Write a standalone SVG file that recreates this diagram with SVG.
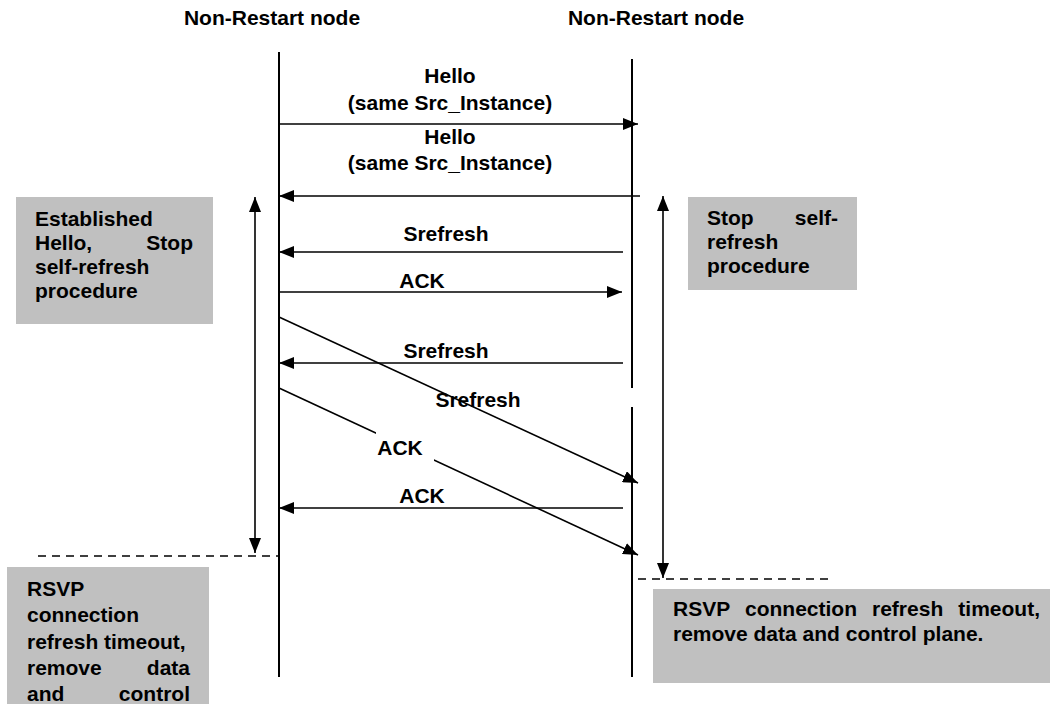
<svg xmlns="http://www.w3.org/2000/svg" width="1050" height="704" viewBox="0 0 1050 704">
  <style>
    text { font-family: "Liberation Sans", Arial, sans-serif; font-weight: bold; font-size: 21px; fill: #000; }
    .mid { text-anchor: middle; }
    .end { text-anchor: end; }
    .life { stroke: #000; stroke-width: 2; fill: none; }
    .msg { stroke: #000; stroke-width: 1.6; fill: none; }
    .dash { stroke: #000; stroke-width: 1.5; stroke-dasharray: 8 6; fill: none; }
    .note { fill: #c0c0c0; stroke: none; }
  </style>
  <defs>
    <marker id="ah" viewBox="0 0 15 12" refX="15" refY="6" markerWidth="15" markerHeight="12" markerUnits="userSpaceOnUse" orient="auto-start-reverse">
      <path d="M0,0 L15,6 L0,12 z" fill="#000"/>
    </marker>
  </defs>
  <rect width="1050" height="704" fill="#fff"/>

  <!-- lifeline headers -->
  <g id="node-left">
    <text x="272" y="25" class="mid">Non-Restart node</text>
    <line class="life" x1="279" y1="52" x2="279" y2="677"/>
  </g>
  <g id="node-right">
    <text x="656" y="25" class="mid">Non-Restart node</text>
    <line class="life" x1="632" y1="59" x2="632" y2="388"/>
    <line class="life" x1="632" y1="407" x2="632" y2="677"/>
  </g>

  <!-- side notes -->
  <g id="note-left-top">
    <rect class="note" x="16" y="197" width="197" height="127"/>
    <text x="35" y="226">Established</text>
    <text x="35" y="250">Hello,</text>
    <text x="193" y="250" class="end">Stop</text>
    <text x="35" y="274">self-refresh</text>
    <text x="35" y="298">procedure</text>
  </g>
  <g id="note-right-top">
    <rect class="note" x="688" y="197" width="169" height="93"/>
    <text x="707" y="225">Stop</text>
    <text x="838" y="225" class="end">self-</text>
    <text x="707" y="249">refresh</text>
    <text x="707" y="273">procedure</text>
  </g>
  <g id="note-left-bottom">
    <rect class="note" x="7" y="567" width="202" height="137"/>
    <text x="27" y="596">RSVP</text>
    <text x="27" y="622">connection</text>
    <text x="27" y="649">refresh timeout,</text>
    <text x="27" y="675">remove</text>
    <text x="190" y="675" class="end">data</text>
    <text x="27" y="701">and</text>
    <text x="190" y="701" class="end">control</text>
  </g>
  <g id="note-right-bottom">
    <rect class="note" x="653" y="589" width="397" height="94"/>
    <text x="673" y="616">RSVP</text>
    <text x="745" y="616">connection</text>
    <text x="872" y="616">refresh</text>
    <text x="1040" y="616" class="end">timeout,</text>
    <text x="673" y="641">remove data and control plane.</text>
  </g>

  <!-- messages and timers -->
  <g id="connectors">
    <line class="msg" x1="279" y1="124" x2="638" y2="124" marker-end="url(#ah)"/>
    <line class="msg" x1="640" y1="196" x2="279" y2="196" marker-end="url(#ah)"/>
    <line class="msg" x1="623" y1="252" x2="279" y2="252" marker-end="url(#ah)"/>
    <line class="msg" x1="279" y1="292" x2="622" y2="292" marker-end="url(#ah)"/>
    <line class="msg" x1="623" y1="363" x2="279" y2="363" marker-end="url(#ah)"/>
    <line class="msg" x1="623" y1="508" x2="279" y2="508" marker-end="url(#ah)"/>
    <line class="msg" x1="279" y1="317" x2="638" y2="483" marker-end="url(#ah)"/>
    <line class="msg" x1="279" y1="388" x2="638" y2="555" marker-end="url(#ah)"/>
    <line class="msg" x1="255" y1="197" x2="255" y2="553" marker-start="url(#ah)" marker-end="url(#ah)"/>
    <line class="msg" x1="663" y1="196" x2="663" y2="578" marker-start="url(#ah)" marker-end="url(#ah)"/>
    <line class="dash" x1="38" y1="556" x2="279" y2="556"/>
    <line class="dash" x1="638" y1="579" x2="828" y2="579"/>
  </g>

  <!-- message labels -->
  <g id="labels">
    <text x="450" y="83" class="mid">Hello</text>
    <text x="450" y="110" class="mid">(same Src_Instance)</text>
    <text x="450" y="144" class="mid">Hello</text>
    <text x="450" y="170" class="mid">(same Src_Instance)</text>
    <text x="446" y="241" class="mid">Srefresh</text>
    <text x="422" y="288" class="mid">ACK</text>
    <text x="446" y="358" class="mid">Srefresh</text>
    <text x="478" y="407" class="mid">Srefresh</text>
    <rect x="376" y="432" width="58" height="30" fill="#fff"/>
    <text x="400" y="455" class="mid">ACK</text>
    <text x="422" y="503" class="mid">ACK</text>
  </g>
</svg>
